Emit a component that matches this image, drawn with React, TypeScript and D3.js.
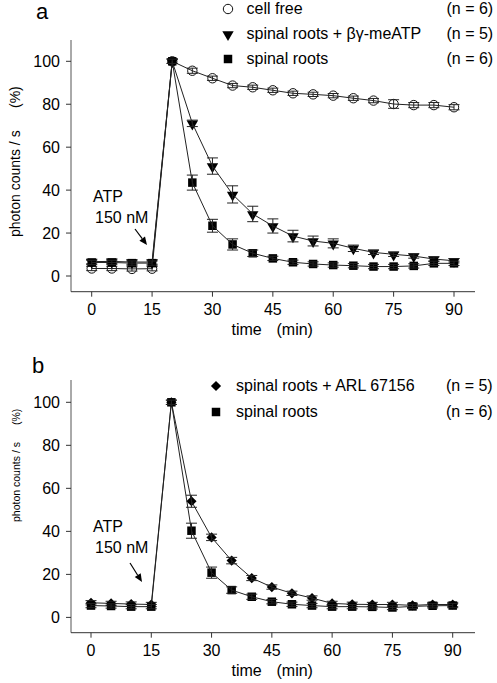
import React from "react";
import * as d3 from "d3";

const times = [0, 5, 10, 15, 20, 25, 30, 35, 40, 45, 50, 55, 60, 65, 70, 75, 80, 85, 90];
const xTicks = [0, 15, 30, 45, 60, 75, 90];
const yTicks = [0, 20, 40, 60, 80, 100];

// Panel a
const cellFree = [3.5, 3.5, 3.3, 3.4, 100, 95.6, 92.1, 88.7, 87.9, 86.5, 85.1, 84.6, 84.0, 82.8, 81.7, 80.1, 79.6, 79.6, 78.6];
const cellFreeErr = [1, 1, 1, 1, 1, 1.2, 1, 1, 1, 1, 1, 1, 1, 1, 1, 2, 1.2, 1.2, 1.2];
const betaGamma = [6.7, 6.8, 6.5, 6.5, 100, 71.1, 51.2, 38.0, 28.9, 23.3, 18.6, 16.3, 15.2, 12.9, 11.0, 10.1, 9.3, 7.9, 7.1];
const betaGammaErr = [1, 1, 1, 1, 1, 1.5, 3.8, 4, 3.6, 3.3, 2.7, 2.3, 2.1, 1.5, 1, 1, 1, 1, 1];
const rootsA = [6.3, 6.3, 6.0, 6.0, 100, 43.5, 23.4, 14.7, 10.6, 8.2, 6.4, 5.6, 5.1, 4.8, 4.4, 4.4, 4.7, 5.9, 5.9];
const rootsAErr = [1, 1, 1, 1, 1, 3.5, 3, 2.6, 1.5, 1, 1, 1, 1, 1, 1, 1, 1, 1, 1];

// Panel b
const arl = [6.8, 6.5, 6.2, 6.0, 100, 54.0, 37.2, 26.4, 18.3, 14.1, 11.2, 9.0, 6.5, 6.1, 6.0, 6.0, 5.6, 6.0, 6.0];
const arlErr = [1, 1, 1, 1, 1, 2.8, 1.5, 1.5, 1.2, 1, 1, 1, 1, 1, 1, 1, 1, 1, 1];
const rootsB = [5.5, 5.3, 5.0, 5.0, 100, 40.3, 20.8, 12.7, 9.6, 7.3, 6.1, 5.5, 5.0, 5.0, 4.9, 4.6, 5.1, 5.4, 5.5];
const rootsBErr = [1, 1, 1, 1, 1, 3.5, 2.6, 1.5, 1.2, 1, 1, 1, 1, 1, 1, 1, 1, 1, 1];

const legendA = [
  { label: "cell free", n: "(n = 6)", shape: "circle" },
  { label: "spinal roots + βγ-meATP", n: "(n = 5)", shape: "triangle" },
  { label: "spinal roots", n: "(n = 6)", shape: "square" },
];
const legendB = [
  { label: "spinal roots + ARL 67156", n: "(n = 5)", shape: "diamond" },
  { label: "spinal roots", n: "(n = 6)", shape: "square" },
];

const FONT = "'Liberation Sans', Arial, Helvetica, sans-serif";

function Marker({ shape, x, y }: { shape: string; x: number; y: number }) {
  if (shape === "circle") {
    return <circle cx={x} cy={y} r={4.7} fill="white" stroke="#111" strokeWidth={1} />;
  }
  if (shape === "triangle") {
    const p = d3.symbol().type(d3.symbolTriangle).size(56)();
    return <path d={p || ""} transform={`translate(${x},${y + 0.5}) rotate(180)`} fill="#000" />;
  }
  if (shape === "square") {
    const p = d3.symbol().type(d3.symbolSquare).size(72)();
    return <path d={p || ""} transform={`translate(${x},${y})`} fill="#000" />;
  }
  const p = d3.symbol().type(d3.symbolSquare).size(52)();
  return <path d={p || ""} transform={`translate(${x},${y}) rotate(45)`} fill="#000" />;
}

type Series = { values: number[]; err: number[]; shape: string };

function Panel({
  x0, x90, yTop, yZero, y100, yBottom, axisRight, series, legend, legendX, legendTextX, legendNX, legendY0, legendDy,
  letter, letterX, letterY, atpX, atpY, arrow, timeY, yLabel,
}: any) {
  const x = d3.scaleLinear().domain([0, 90]).range([x0, x90]);
  const y = d3.scaleLinear().domain([0, 100]).range([yZero, y100]);
  const axisLeft = 71;
  const line = d3.line<number>().x((_, i) => x(times[i])).y((v) => y(v));
  return (
    <g fontFamily={FONT}>
      {/* axes */}
      <line x1={axisLeft} x2={axisLeft} y1={yTop} y2={yBottom} stroke="#555" strokeWidth={1} />
      <line x1={axisLeft} x2={axisRight} y1={yBottom} y2={yBottom} stroke="#333" strokeWidth={1} />
      {yTicks.map((t) => (
        <g key={"y" + t}>
          <line x1={axisLeft - 5} x2={axisLeft} y1={y(t)} y2={y(t)} stroke="#333" />
          <text x={60} y={y(t)} dy="0.36em" textAnchor="end" fontSize={16}>{t}</text>
        </g>
      ))}
      {xTicks.map((t) => (
        <g key={"x" + t}>
          <line x1={x(t)} x2={x(t)} y1={yBottom} y2={yBottom + 5} stroke="#333" />
          <text x={x(t)} y={yBottom + 23} textAnchor="middle" fontSize={16}>{t}</text>
        </g>
      ))}
      <text x={231.5} y={timeY} fontSize={16}>time</text>
      <text x={276.5} y={timeY} fontSize={16}>(min)</text>
      {/* y label */}
      <text transform={`translate(${yLabel.x},${yLabel.y1}) rotate(-90)`} fontSize={yLabel.fs}>photon counts / s</text>
      <text transform={`translate(${yLabel.x},${yLabel.y2}) rotate(-90)`} fontSize={yLabel.fs}>(%)</text>
      {/* letter */}
      <text x={letterX} y={letterY} fontSize={22}>{letter}</text>
      {/* ATP annotation */}
      <text x={atpX} y={atpY} fontSize={16}>ATP</text>
      <text x={atpX + 2} y={atpY + 21} fontSize={16}>150 nM</text>
      {(() => {
        const [ax1, ay1, ax2, ay2] = arrow;
        const ang = Math.atan2(ay2 - ay1, ax2 - ax1);
        const L = 8, W = 3.5;
        const bx = ax2 - L * Math.cos(ang), by = ay2 - L * Math.sin(ang);
        const px = -Math.sin(ang) * W, py = Math.cos(ang) * W;
        return (
          <g>
            <line x1={ax1} y1={ay1} x2={bx} y2={by} stroke="#000" strokeWidth={1.2} />
            <path d={`M${ax2},${ay2}L${bx + px},${by + py}L${bx - px},${by - py}Z`} fill="#000" />
          </g>
        );
      })()}
      {/* series */}
      {series.map((s: Series, si: number) => (
        <g key={"s" + si}>
          {s.values.map((v, i) => (
            <Marker key={i} shape={s.shape} x={x(times[i])} y={y(v)} />
          ))}
          <path d={line(s.values) || ""} fill="none" stroke="#222" strokeWidth={1} />
          {s.values.map((v, i) => {
            const cx = x(times[i]);
            const hi = y(v + s.err[i]);
            const lo = y(v - s.err[i]);
            const c = 5.5;
            return (
              <g key={"e" + i} stroke="#222" strokeWidth={1}>
                <line x1={cx} x2={cx} y1={hi} y2={lo} />
                <line x1={cx - c} x2={cx + c} y1={hi} y2={hi} />
                <line x1={cx - c} x2={cx + c} y1={lo} y2={lo} />
              </g>
            );
          })}
        </g>
      ))}
      {/* legend */}
      {legend.map((l: any, i: number) => {
        const by = legendY0 + i * legendDy;
        return (
          <g key={"l" + i}>
            <Marker shape={l.shape} x={legendX} y={by - 4.5} />
            <text x={legendTextX} y={by} fontSize={16}>{l.label}</text>
            <text x={legendNX} y={by} fontSize={16}>{l.n}</text>
          </g>
        );
      })}
    </g>
  );
}

export default function App() {
  return (
    <svg width={497} height={683} style={{ position: "absolute", left: 0, top: 0, background: "white" }}>
      <rect width={497} height={683} fill="white" />
      <Panel
        x0={91.7} x90={454} yTop={40} yZero={276} y100={61.3} yBottom={291.7} axisRight={475}
        series={[
          { values: cellFree, err: cellFreeErr, shape: "circle" },
          { values: betaGamma, err: betaGammaErr, shape: "triangle" },
          { values: rootsA, err: rootsAErr, shape: "square" },
        ]}
        legend={legendA} legendX={228} legendTextX={246.5} legendNX={446.5} legendY0={13.5} legendDy={25}
        letter="a" letterX={36} letterY={18.5} atpX={93} atpY={202} arrow={[135, 229, 147, 245]} timeY={335}
        yLabel={{ x: 20, y1: 237, y2: 108, fs: 14 }}
      />
      <Panel
        x0={91} x90={452.7} yTop={380} yZero={617.4} y100={402.3} yBottom={632.7} axisRight={475}
        series={[
          { values: arl, err: arlErr, shape: "diamond" },
          { values: rootsB, err: rootsBErr, shape: "square" },
        ]}
        legend={legendB} legendX={216} legendTextX={236} legendNX={446} legendY0={390.5} legendDy={26}
        letter="b" letterX={32} letterY={373} atpX={93} atpY={532} arrow={[130, 563, 142, 582]} timeY={676}
        yLabel={{ x: 19.5, y1: 522, y2: 425, fs: 10.5 }}
      />
    </svg>
  );
}
